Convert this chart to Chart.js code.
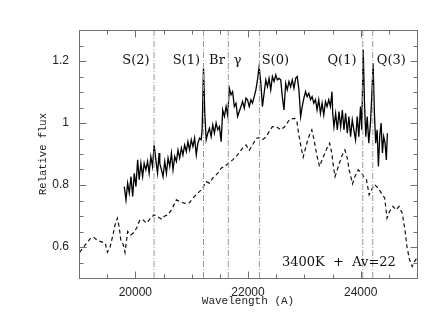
<!DOCTYPE html>
<html>
<head>
<meta charset="utf-8">
<script src="https://cdn.jsdelivr.net/npm/chart.js@4"></script>
<style>
  html, body { margin: 0; padding: 0; background: #fff; }
  #wrap { width: 430px; height: 333px; }
</style>
</head>
<body>
<div id="wrap"><canvas id="spec"></canvas></div>
<script>
// --- data ---
const solidWave = [19804, 19834, 19864, 19893, 19923, 19953, 19981, 20011, 20041, 20069, 20099, 20129, 20157, 20187, 20217, 20245, 20275, 20305, 20334, 20364, 20394, 20422, 20434, 20464, 20492, 20522, 20552, 20581, 20611, 20641, 20669, 20699, 20729, 20757, 20787, 20817, 20845, 20875, 20905, 20933, 20963, 20993, 21022, 21052, 21082, 21110, 21140, 21170, 21187, 21210, 21233, 21258, 21286, 21316, 21346, 21374, 21404, 21434, 21463, 21493, 21523, 21551, 21581, 21611, 21639, 21669, 21699, 21727, 21757, 21787, 21815, 21845, 21875, 21904, 21934, 21964, 21992, 22022, 22052, 22080, 22110, 22140, 22168, 22198, 22228, 22256, 22286, 22316, 22345, 22374, 22404, 22433, 22463, 22493, 22521, 22551, 22581, 22609, 22639, 22669, 22697, 22727, 22757, 22786, 22816, 22846, 22874, 22904, 22934, 22962, 22992, 23022, 23050, 23080, 23110, 23138, 23168, 23198, 23226, 23256, 23286, 23315, 23345, 23375, 23403, 23433, 23463, 23491, 23504, 23526, 23556, 23586, 23615, 23645, 23675, 23703, 23733, 23763, 23791, 23821, 23851, 23879, 23909, 23939, 23967, 23997, 24020, 24045, 24068, 24091, 24116, 24144, 24174, 24197, 24221, 24244, 24267, 24292, 24315, 24338, 24363, 24386, 24409, 24433, 24456, 24474];
const solidFlux = [0.795, 0.752, 0.806, 0.774, 0.827, 0.763, 0.838, 0.795, 0.881, 0.817, 0.870, 0.827, 0.870, 0.849, 0.876, 0.838, 0.892, 0.860, 0.929, 0.881, 0.838, 0.903, 0.870, 0.849, 0.827, 0.876, 0.838, 0.887, 0.860, 0.903, 0.849, 0.892, 0.876, 0.913, 0.887, 0.919, 0.897, 0.929, 0.908, 0.940, 0.913, 0.946, 0.924, 0.951, 0.897, 0.935, 0.951, 0.946, 0.983, 1.177, 1.031, 0.946, 0.967, 0.983, 0.956, 0.994, 0.967, 1.000, 0.978, 0.988, 0.940, 1.042, 1.021, 1.053, 1.026, 1.112, 1.091, 1.101, 1.053, 1.064, 1.021, 1.037, 1.053, 1.069, 1.048, 1.080, 1.075, 1.053, 1.075, 1.064, 1.085, 1.107, 1.139, 1.182, 1.128, 1.053, 1.096, 1.139, 1.117, 1.144, 1.107, 1.150, 1.134, 1.155, 1.139, 1.144, 1.139, 1.085, 1.042, 1.128, 1.107, 1.134, 1.117, 1.139, 1.112, 1.144, 1.150, 1.107, 1.021, 1.053, 1.080, 1.101, 1.085, 1.096, 1.075, 1.085, 1.064, 1.075, 1.042, 1.075, 1.031, 1.064, 1.026, 1.069, 1.053, 1.075, 1.053, 1.101, 1.031, 0.988, 1.031, 0.978, 1.037, 0.988, 1.042, 0.978, 1.031, 0.967, 1.021, 0.956, 1.010, 0.978, 0.946, 1.021, 0.956, 1.053, 0.978, 1.236, 1.064, 0.956, 1.021, 0.935, 1.000, 1.085, 1.193, 1.031, 0.935, 0.978, 0.860, 0.956, 1.000, 0.903, 0.956, 0.935, 0.881, 0.967];

const dashWave = [19011, 19081, 19199, 19258, 19318, 19376, 19464, 19505, 19552, 19610, 19640, 19681, 19716, 19741, 19787, 19817, 19864, 19917, 19963, 20023, 20081, 20140, 20200, 20258, 20334, 20399, 20464, 20522, 20581, 20641, 20699, 20729, 20787, 20875, 20963, 21022, 21110, 21170, 21210, 21258, 21316, 21374, 21463, 21523, 21581, 21657, 21727, 21815, 21904, 21964, 22022, 22080, 22151, 22198, 22256, 22327, 22374, 22433, 22504, 22581, 22651, 22740, 22828, 22868, 22904, 22944, 22980, 23036, 23089, 23133, 23168, 23221, 23269, 23327, 23415, 23450, 23490, 23516, 23545, 23604, 23662, 23720, 23763, 23795, 23856, 23897, 23957, 24015, 24056, 24103, 24151, 24209, 24250, 24310, 24368, 24426, 24468, 24514, 24574, 24632, 24680, 24738, 24786, 24821, 24867, 24915, 24955, 25000];
const dashFlux = [0.583, 0.600, 0.627, 0.632, 0.623, 0.618, 0.613, 0.583, 0.600, 0.645, 0.672, 0.693, 0.661, 0.623, 0.607, 0.583, 0.650, 0.639, 0.645, 0.661, 0.688, 0.687, 0.677, 0.690, 0.704, 0.697, 0.690, 0.700, 0.704, 0.720, 0.741, 0.752, 0.747, 0.741, 0.743, 0.758, 0.774, 0.784, 0.795, 0.811, 0.806, 0.822, 0.838, 0.854, 0.860, 0.870, 0.881, 0.897, 0.919, 0.929, 0.912, 0.929, 0.951, 0.953, 0.946, 0.956, 0.972, 0.988, 0.988, 0.978, 0.988, 1.012, 1.015, 1.005, 0.960, 0.920, 0.890, 0.930, 0.960, 0.978, 0.950, 0.897, 0.860, 0.887, 0.924, 0.935, 0.900, 0.860, 0.827, 0.860, 0.892, 0.913, 0.887, 0.849, 0.804, 0.827, 0.849, 0.838, 0.827, 0.817, 0.768, 0.790, 0.801, 0.790, 0.774, 0.758, 0.693, 0.715, 0.731, 0.720, 0.731, 0.709, 0.656, 0.602, 0.559, 0.537, 0.553, 0.565];

// H2 / Br gamma line positions (vertical dash-dot markers)
const lineWaves = [20333, 21210, 21651, 22203, 24037, 24214];
const lineLabels = ['S(2)', 'S(1)', 'Br', 'γ', 'S(0)', 'Q(1)', 'Q(3)'];
const lineLabelWaves = [20011, 20905, 21449, 21815, 22486, 23668, 24544];
const lineLabelFlux = 1.2;

const modelText = '3400K  +  Av=22';
const modelTextWave = 23614;
const modelTextFlux = 0.548;

const xTicks = [20000, 22000, 24000];
const yTicks = [0.6, 0.8, 1, 1.2];
const xMin = 19000, xMax = 25000, yMin = 0.5, yMax = 1.3;

const toPts = (xs, ys) => xs.map((v, i) => ({ x: v, y: ys[i] }));

const datasets = lineWaves.map(w => ({
    data: [{ x: w, y: yMin }, { x: w, y: yMax }],
    borderColor: '#9a9a9a',
    borderWidth: 1,
    borderDash: [6, 2, 1, 2],
    pointRadius: 0
}));
datasets.push({
    data: toPts(dashWave, dashFlux),
    borderColor: '#111',
    borderWidth: 1.2,
    borderDash: [4, 3],
    pointRadius: 0
});
datasets.push({
    data: toPts(solidWave, solidFlux),
    borderColor: '#000',
    borderWidth: 1.3,
    pointRadius: 0
});

// frame, inward ticks on all four sides, and the text labels
const frameAndText = {
    id: 'frameAndText',
    afterDatasetsDraw(chart) {
        const { ctx, chartArea: a, scales: { x, y } } = chart;
        const L = Math.round(a.left) + 0.5, R = Math.round(a.right) + 0.5;
        const T = Math.round(a.top) + 0.5, B = Math.round(a.bottom) + 0.5;
        ctx.save();
        ctx.strokeStyle = '#707070';
        ctx.lineWidth = 1;
        ctx.strokeRect(L, T, R - L, B - T);
        ctx.beginPath();
        for (let v = xMin + 500; v < xMax; v += 500) {
            const px = Math.round(x.getPixelForValue(v)) + 0.5;
            const len = v % 2000 === 0 ? 7 : 4;
            ctx.moveTo(px, B); ctx.lineTo(px, B - len);
            ctx.moveTo(px, T); ctx.lineTo(px, T + len);
        }
        for (let i = 1; i < 16; i++) {
            const py = Math.round(y.getPixelForValue(yMin + i * 0.05)) + 0.5;
            const len = i % 4 === 2 ? 7 : 4;
            ctx.moveTo(L, py); ctx.lineTo(L + len, py);
            ctx.moveTo(R, py); ctx.lineTo(R - len, py);
        }
        ctx.stroke();

        ctx.fillStyle = '#111';
        ctx.font = '13px "DejaVu Serif"';
        ctx.textAlign = 'center';
        ctx.textBaseline = 'middle';
        lineLabels.forEach((t, i) => {
            ctx.fillText(t, x.getPixelForValue(lineLabelWaves[i]), y.getPixelForValue(lineLabelFlux));
        });
        ctx.fillText(modelText, x.getPixelForValue(modelTextWave), y.getPixelForValue(modelTextFlux));
        ctx.restore();
    }
};

new Chart(document.getElementById('spec'), {
    type: 'line',
    data: { datasets },
    options: {
        responsive: true,
        maintainAspectRatio: false,
        animation: false,
        parsing: true,
        layout: { padding: { top: 30, right: 13, left: 0, bottom: 0 } },
        plugins: { legend: { display: false }, tooltip: { enabled: false } },
        elements: { line: { tension: 0 } },
        scales: {
            x: {
                type: 'linear',
                min: xMin, max: xMax,
                grid: { display: false, drawTicks: false },
                border: { display: false },
                afterBuildTicks: s => { s.ticks = xTicks.map(v => ({ value: v })); },
                afterFit: s => { s.height = 55; },
                ticks: {
                    color: '#222',
                    padding: 7,
                    maxRotation: 0,
                    font: { family: 'Liberation Sans', size: 12 },
                    callback: v => String(v)
                },
                title: {
                    display: true,
                    text: 'Wavelength (A)',
                    color: '#222',
                    font: { family: 'Liberation Mono', size: 11 },
                    padding: { top: 0, bottom: 25 }
                }
            },
            y: {
                min: yMin, max: yMax,
                grid: { display: false, drawTicks: false },
                border: { display: false },
                afterBuildTicks: s => { s.ticks = yTicks.map(v => ({ value: v })); },
                afterFit: s => { s.width = 79; },
                ticks: {
                    color: '#222',
                    padding: 10,
                    font: { family: 'Liberation Sans', size: 12 },
                    callback: v => String(v)
                },
                title: {
                    display: true,
                    text: 'Relative flux',
                    color: '#222',
                    font: { family: 'Liberation Mono', size: 10.5 },
                    padding: { top: 37, bottom: 0 }
                }
            }
        }
    },
    plugins: [frameAndText]
});
</script>
</body>
</html>
